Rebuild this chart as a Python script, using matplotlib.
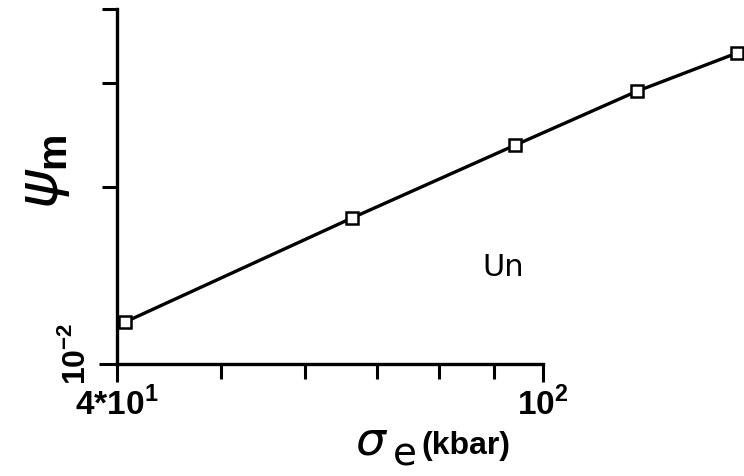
import matplotlib
matplotlib.use('Agg')
import matplotlib.pyplot as plt
from matplotlib.ticker import FixedLocator, NullFormatter

# values (log-log)
sigma_e = [40.7, 66.3, 94.2, 122.4, 152.0]        # kbar
psi_m = [0.01178, 0.01768, 0.0235, 0.0290, 0.0337]

x_major = [40, 100]
x_major_labels = [r'4*10$^{1}$', r'10$^{2}$']
x_minor = [50, 60, 70, 80, 90]
y_major = [0.01]
y_major_label = r'10$^{-2}$'
y_minor = [0.02, 0.03, 0.04]

lab_font = ['Liberation Sans', 'DejaVu Sans']
plt.rcParams['mathtext.fontset'] = 'custom'
plt.rcParams['mathtext.rm'] = 'Liberation Sans:bold'
plt.rcParams['mathtext.it'] = 'DejaVu Sans:italic'
plt.rcParams['mathtext.bf'] = 'Liberation Sans:bold'

W, H = 744, 477
fig = plt.figure(figsize=(W / 100, H / 100), dpi=100)
ax = fig.add_axes([117 / W, (H - 365) / H, (W - 117) / W, (365 - 10) / H])
ax.set_xscale('log')
ax.set_yscale('log')
ax.set_xlim(40, 154.2)
ax.set_ylim(0.01, 0.04)

ax.plot(sigma_e, psi_m, color='black', linewidth=2.4, marker='s', markersize=8,
        markerfacecolor='white', markeredgecolor='black', markeredgewidth=1.8, clip_on=False, zorder=3)

for s in ['top', 'right']:
    ax.spines[s].set_visible(False)
for s in ['left', 'bottom']:
    ax.spines[s].set_linewidth(2.4)
ax.spines['bottom'].set_bounds(40, 100)
ax.spines['left'].set_bounds(0.01, 0.04)

ax.xaxis.set_major_locator(FixedLocator(x_major))
ax.xaxis.set_minor_locator(FixedLocator(x_minor))
ax.xaxis.set_minor_formatter(NullFormatter())
ax.set_xticklabels(x_major_labels, fontsize=24, fontweight='bold', family=lab_font)
ax.yaxis.set_major_locator(FixedLocator(y_major))
ax.yaxis.set_minor_locator(FixedLocator(y_minor))
ax.yaxis.set_minor_formatter(NullFormatter())
ax.set_yticklabels([''])

ax.tick_params(which='both', direction='out', width=2.2, color='black')
ax.tick_params(which='major', length=13)
ax.tick_params(which='minor', length=11)
ax.tick_params(axis='x', which='major', pad=3)

# y tick label sits a bit above the axis corner in the original
fig.text(76 / W, 1 - 354 / H, y_major_label, fontsize=23, fontweight='bold', family=lab_font,
         rotation=90, ha='center', va='center')

# axis titles
fig.text(44 / W, 1 - 172 / H, r'$\psi_{\rm m}$', fontsize=42, rotation=90, ha='center', va='center')
fig.text(372 / W, 1 - 442 / H, r'$\sigma$', fontsize=34, ha='center', va='center')
fig.text(405 / W, 1 - 455 / H, 'e', fontsize=28, ha='center', va='center')
fig.text(421 / W, 1 - 446 / H, '(kbar)', fontsize=23, fontweight='bold', family=lab_font,
         ha='left', va='center')
fig.text(503 / W, 1 - 268 / H, 'Un', fontsize=22, ha='center', va='center')

fig.savefig('out.png', dpi=100)
